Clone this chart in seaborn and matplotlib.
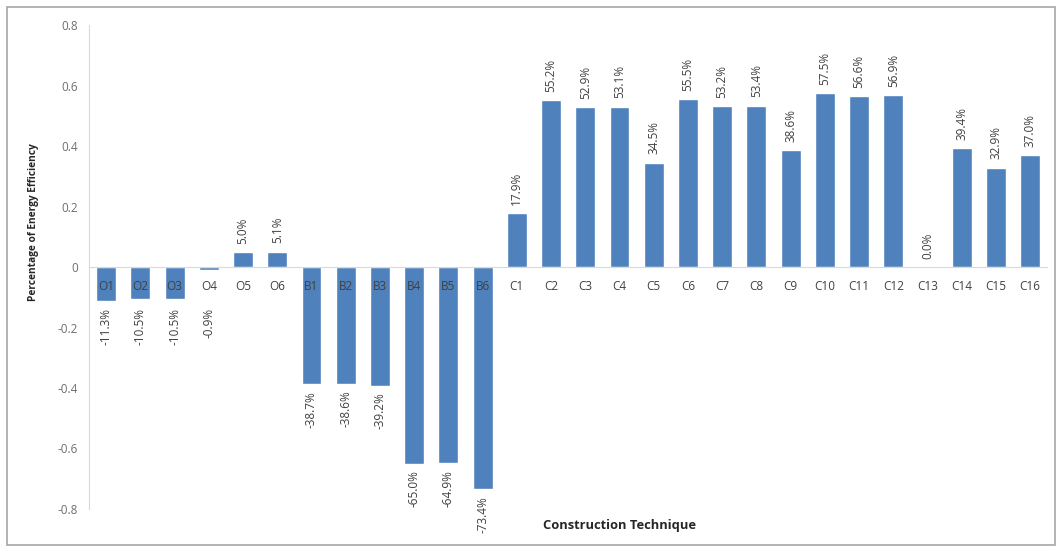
import numpy as np
import pandas as pd
import matplotlib
matplotlib.use("Agg")
import matplotlib.pyplot as plt
import seaborn as sns
from matplotlib.patches import Rectangle
from matplotlib.ticker import FuncFormatter

# ==========================================
# data
# ==========================================
techniques = ['O1', 'O2', 'O3', 'O4', 'O5', 'O6',
              'B1', 'B2', 'B3', 'B4', 'B5', 'B6',
              'C1', 'C2', 'C3', 'C4', 'C5', 'C6', 'C7', 'C8',
              'C9', 'C10', 'C11', 'C12', 'C13', 'C14', 'C15', 'C16']
efficiency = [-0.113, -0.105, -0.105, -0.009, 0.050, 0.051,
              -0.387, -0.386, -0.392, -0.650, -0.649, -0.734,
              0.179, 0.552, 0.529, 0.531, 0.345, 0.555, 0.532, 0.534,
              0.386, 0.575, 0.566, 0.569, 0.000, 0.394, 0.329, 0.370]
y_ticks = [-0.8, -0.6, -0.4, -0.2, 0, 0.2, 0.4, 0.6, 0.8]

df = pd.DataFrame({'Technique': techniques, 'Efficiency': efficiency})

sns.set_style("white")
plt.rcParams['font.family'] = ['Open Sans', 'DejaVu Sans']

fig = plt.figure(figsize=(10.6, 5.49), dpi=100)
ax = fig.add_axes([0.084, 0.073, 0.904, 0.881])

bar_color = '#4F81BD'
sns.barplot(data=df, x='Technique', y='Efficiency', color=bar_color,
            width=0.58, saturation=1, ax=ax)

ax.set_ylim(-0.8, 0.8)
ax.set_xlim(-0.5, len(techniques) - 0.5)
ax.set_yticks(y_ticks)
ax.yaxis.set_major_formatter(FuncFormatter(lambda v, p: '0' if abs(v) < 1e-9 else f'{v:g}'))
ax.tick_params(axis='y', length=0, labelsize=8.5, labelcolor='#6E6E6E', pad=8)
ax.tick_params(axis='x', length=0, labelsize=8.5, labelcolor='#404040', pad=9)

# x axis sits on the zero line, drawn above the bars
ax.set_axisbelow(False)
ax.spines['bottom'].set_position(('data', 0))
ax.spines['bottom'].set_color('#D9D9D9')
ax.spines['left'].set_color('#D9D9D9')
ax.spines['top'].set_visible(False)
ax.spines['right'].set_visible(False)

# rotated value labels (negative ones kept clear of the category names)
for i, v in enumerate(efficiency):
    if v >= 0:
        ax.annotate(f'{v * 100:.1f}%', (i, v), xytext=(0, 6), textcoords='offset points',
                    rotation=90, ha='center', va='bottom', fontsize=8.5, color='#404040')
    else:
        ax.annotate(f'{v * 100:.1f}%', (i, min(v, -0.113)), xytext=(0, -5), textcoords='offset points',
                    rotation=90, ha='center', va='top', fontsize=8.5, color='#404040')

ax.set_xlabel('Construction Technique', fontsize=9.3, fontweight='bold', color='#262626')
ax.set_ylabel('Percentage of Energy Efficiency', fontsize=7.3, fontweight='bold', color='#262626')
ax.xaxis.set_label_coords(0.554, -0.02)
ax.yaxis.set_label_coords(-0.052, 0.593)

# grey frame round the whole chart
fig.patches.append(Rectangle((0.007, 0.008), 0.988, 0.979, transform=fig.transFigure,
                             fill=False, edgecolor='#A6A6A6', linewidth=1.2))

fig.savefig('out.png', dpi=100)
